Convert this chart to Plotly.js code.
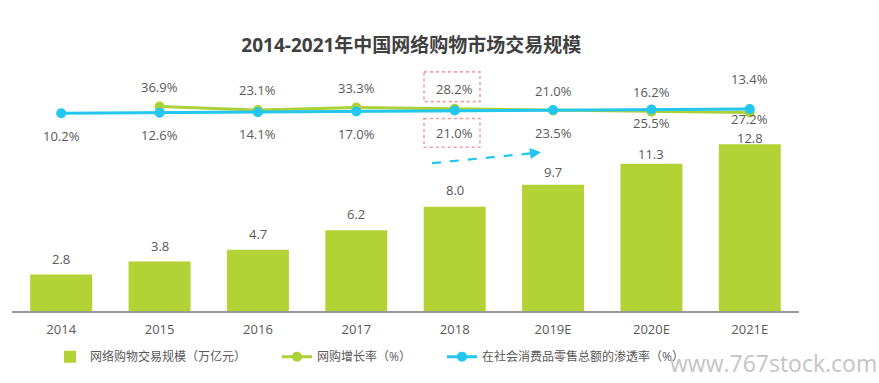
<!DOCTYPE html>
<html>
<head>
<meta charset="utf-8">
<script src="https://cdn.plot.ly/plotly-3.0.1.min.js"></script>
<style>html,body{margin:0;padding:0;background:#fff;}#chart{width:879px;height:383px;}</style>
</head>
<body>
<div id="chart"></div>
<script>
// ---- data ----
const categories = ['2014', '2015', '2016', '2017', '2018', '2019E', '2020E', '2021E'];
const marketSize = [2.8, 3.8, 4.7, 6.2, 8.0, 9.7, 11.3, 12.8];          // 万亿元
const growthRate = [null, 36.9, 23.1, 33.3, 28.2, 21.0, 16.2, 13.4];   // %
const penetration = [10.2, 12.6, 14.1, 17.0, 21.0, 23.5, 25.5, 27.2];  // %
const seriesNames = ['网络购物交易规模（万亿元）', '网购增长率（%）', '在社会消费品零售总额的渗透率（%）'];
const chartTitle = '2014-2021年中国网络购物市场交易规模';

// ---- styles ----
const FONT = 'Open Sans, "Noto Sans CJK SC", sans-serif';
const barColor = '#b3d235';
const greenColor = '#acd037';
const blueColor = '#22c6ef';
const textColor = '#595959';
const barLabelShift = [16, 16, 16, 16, 17, 13, 10, 6];
const growthLabelShift = [0, 20, 20, 20, 20, 20, 20, 33];
const penLabelShift = [-23, -22, -22, -22, -22, -23, -14, -10];

// helper: pixel -> paper (plot area x 12..799, y 60..313)
const px = p => (p - 12) / 787;
const py = p => (313 - p) / 253;

const traces = [
  {type: 'bar', name: seriesNames[0], x: categories, y: marketSize,
   marker: {color: barColor}, width: 0.63, yaxis: 'y', legend: 'legend'},
  {type: 'scatter', mode: 'lines+markers', name: seriesNames[1], x: categories, y: growthRate,
   yaxis: 'y2', line: {color: greenColor, width: 3}, marker: {color: greenColor, size: 10}, legend: 'legend2'},
  {type: 'scatter', mode: 'lines+markers', name: seriesNames[2], x: categories, y: penetration,
   yaxis: 'y2', line: {color: blueColor, width: 3}, marker: {color: blueColor, size: 10}, legend: 'legend3'}
];

const annotations = [];
categories.forEach((c, i) => {
  annotations.push({x: i, y: marketSize[i], xref: 'x', yref: 'y', text: marketSize[i].toFixed(1),
    showarrow: false, yanchor: 'middle', yshift: barLabelShift[i], font: {family: FONT, size: 13, color: textColor}});
  if (growthRate[i] !== null) {
    annotations.push({x: i, y: growthRate[i], xref: 'x', yref: 'y2', text: growthRate[i].toFixed(1) + '%',
      showarrow: false, yanchor: 'middle', yshift: growthLabelShift[i], font: {family: FONT, size: 13, color: textColor}});
  }
  annotations.push({x: i, y: penetration[i], xref: 'x', yref: 'y2', text: penetration[i].toFixed(1) + '%',
    showarrow: false, yanchor: 'middle', yshift: penLabelShift[i], font: {family: FONT, size: 13, color: textColor}});
});

// arrow head
annotations.push({xref: 'paper', yref: 'paper', x: px(541), y: py(153), ax: -11, ay: 1.3,
  showarrow: true, arrowhead: 2, arrowsize: 1, arrowwidth: 2.2, arrowcolor: blueColor, text: ''});
// watermark
annotations.push({xref: 'paper', yref: 'paper', x: px(878), y: py(383), xanchor: 'right', yanchor: 'bottom',
  borderpad: 0, text: 'www.767stock.com', showarrow: false,
  font: {family: 'Open Sans, sans-serif', size: 23, color: '#c4c4c4'}});

const shapes = [
  {type: 'rect', xref: 'paper', yref: 'paper', x0: px(424), x1: px(480), y0: py(72), y1: py(102),
   line: {color: '#f4a0a0', width: 1.6, dash: 'dot'}},
  {type: 'rect', xref: 'paper', yref: 'paper', x0: px(424), x1: px(480), y0: py(119), y1: py(148),
   line: {color: '#f4a0a0', width: 1.6, dash: 'dot'}},
  {type: 'line', xref: 'paper', yref: 'paper', x0: px(432), y0: py(164), x1: px(532), y1: py(154),
   line: {color: blueColor, width: 2.2, dash: 'dash'}}
];

const legendBase = {orientation: 'h', xanchor: 'left', y: py(359), yanchor: 'middle',
  font: {family: FONT, size: 12, color: textColor}, itemwidth: 30, bgcolor: 'rgba(0,0,0,0)'};

const layout = {
  width: 879, height: 383,
  margin: {l: 12, r: 80, t: 60, b: 70},
  paper_bgcolor: '#ffffff', plot_bgcolor: '#ffffff',
  font: {family: FONT, size: 13, color: textColor},
  title: {text: '<b>' + chartTitle + '</b>', x: 0.468, xref: 'container', xanchor: 'center',
          y: 1 - 45 / 383, yref: 'container', yanchor: 'middle',
          font: {family: FONT, size: 19, color: '#404040'}},
  showlegend: true,
  legend: Object.assign({}, legendBase, {x: px(50)}),
  legend2: Object.assign({}, legendBase, {x: px(277)}),
  legend3: Object.assign({}, legendBase, {x: px(442)}),
  xaxis: {type: 'category', range: [-0.5, 7.5], showgrid: false, zeroline: false, showline: true,
          linecolor: '#999999', linewidth: 1.5,
          ticks: '', tickfont: {family: FONT, size: 13, color: textColor}, ticklabelstandoff: 6},
  yaxis: {range: [0, 19.27], showgrid: false, zeroline: false, showline: false, showticklabels: false, ticks: ''},
  yaxis2: {range: [-787.2, 224.8], overlaying: 'y', side: 'right', showgrid: false, zeroline: false,
           showline: false, showticklabels: false, ticks: ''},
  annotations: annotations,
  shapes: shapes
};

Plotly.newPlot('chart', traces, layout, {staticPlot: true, displayModeBar: false});
</script>
</body>
</html>
